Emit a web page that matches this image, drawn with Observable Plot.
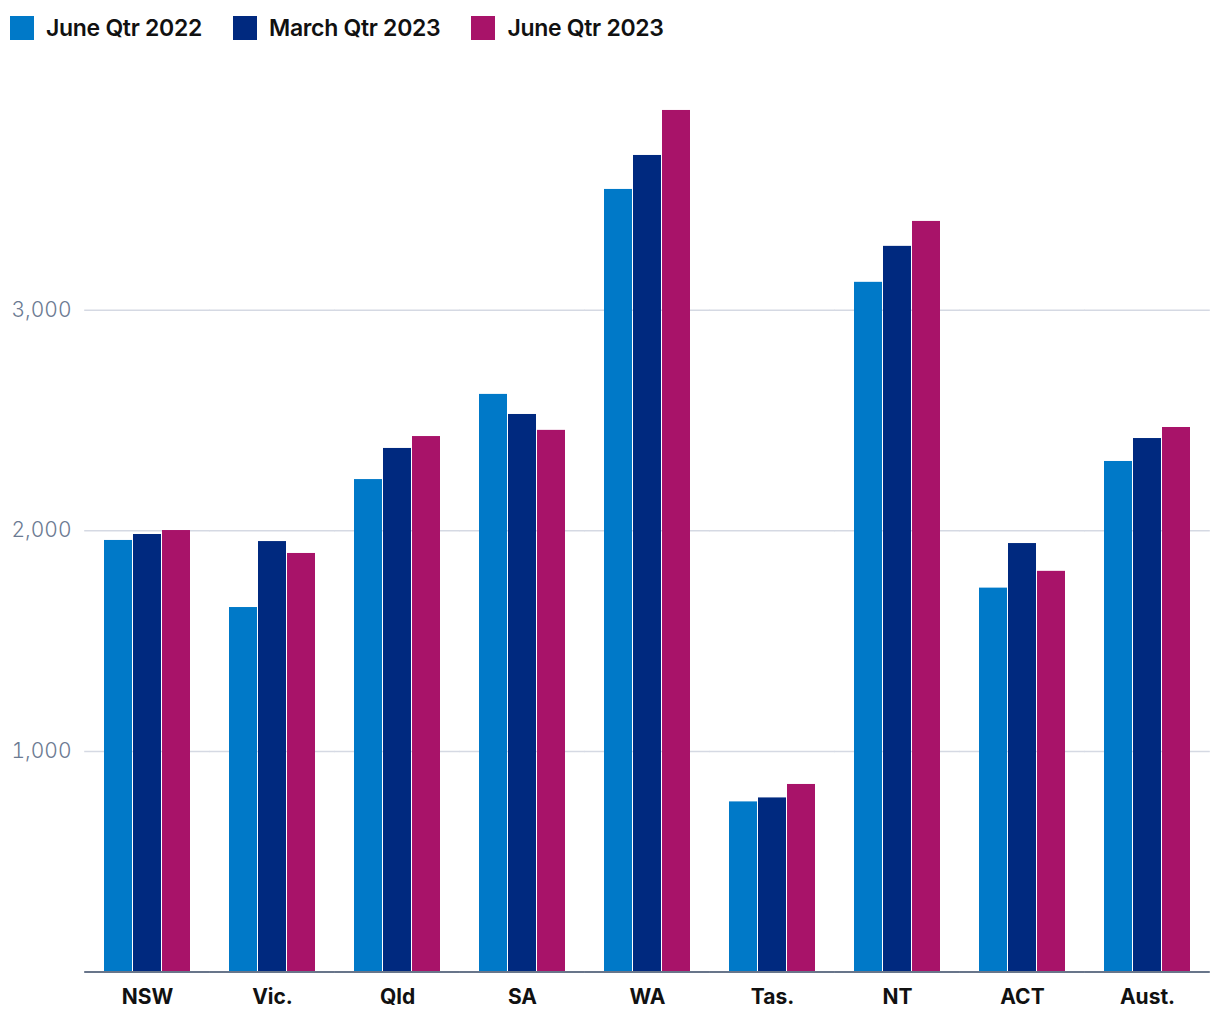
<!DOCTYPE html>
<html>
<head>
<meta charset="utf-8">
<script src="https://cdn.jsdelivr.net/npm/d3@7"></script>
<script src="https://cdn.jsdelivr.net/npm/@observablehq/plot@0.6"></script>
<style>
  html, body { margin: 0; padding: 0; background: #fff; }
  body { width: 1220px; height: 1020px; overflow: hidden; font-family: Inter, "Noto Sans", sans-serif; }
  #legend { height: 56px; box-sizing: border-box; padding: 16px 0 0 10px; display: flex; align-items: flex-start; }
  #legend .item { display: flex; align-items: center; margin-right: 31px; }
  #legend .sw { width: 24px; height: 24px; margin-right: 12px; }
  #legend .lbl { font-size: 23px; font-weight: 600; color: #111; line-height: 24px; letter-spacing: -0.3px; }
  #chart svg { display: block; }
</style>
</head>
<body>
<div id="legend"></div>
<div id="chart"></div>
<script>
const states = ["NSW", "Vic.", "Qld", "SA", "WA", "Tas.", "NT", "ACT", "Aust."];
const seriesNames = ["June Qtr 2022", "March Qtr 2023", "June Qtr 2023"];
const seriesColors = ["#0079c8", "#00297f", "#a81369"];
const june2022 = [1956, 1652, 2232, 2618, 3547, 771, 3126, 1740, 2314];
const march2023 = [1983, 1951, 2373, 2527, 3701, 789, 3289, 1942, 2418];
const june2023 = [2001, 1897, 2427, 2455, 3905, 850, 3402, 1816, 2468];
const yTicks = [1000, 2000, 3000];

const seriesValues = [june2022, march2023, june2023];
const data = [];
states.forEach((s, i) => {
  seriesNames.forEach((n, j) => {
    data.push({state: s, series: n, value: seriesValues[j][i]});
  });
});

// legend
const legend = document.getElementById("legend");
seriesNames.forEach((n, j) => {
  const item = document.createElement("div");
  item.className = "item";
  const sw = document.createElement("div");
  sw.className = "sw";
  sw.style.background = seriesColors[j];
  const lbl = document.createElement("div");
  lbl.className = "lbl";
  lbl.textContent = n;
  item.appendChild(sw);
  item.appendChild(lbl);
  legend.appendChild(item);
});

const halfGap = -19.8;
const chart = Plot.plot({
  width: 1220,
  height: 964,
  marginTop: 33,
  marginBottom: 48.5,
  marginLeft: 84,
  marginRight: 10,
  style: {fontFamily: "Inter, 'Noto Sans', sans-serif", background: "#fff"},
  fx: {domain: states, paddingInner: 0.312, paddingOuter: 0.156, label: null},
  x: {domain: seriesNames, paddingInner: 0.05, paddingOuter: 0, axis: null},
  y: {domain: [0, 4000], axis: null},
  color: {domain: seriesNames, range: seriesColors},
  marks: [
    Plot.ruleY(yTicks, {stroke: "#d5d9e3", strokeWidth: 1.5, insetLeft: halfGap, insetRight: halfGap}),
    Plot.barY(data, {fx: "state", x: "series", y: "value", fill: "series"}),
    Plot.ruleY([0], {stroke: "#68758a", strokeWidth: 2, insetLeft: halfGap, insetRight: halfGap}),
    Plot.axisY(yTicks, {tickSize: 0, tickPadding: 33, tickFormat: d3.format(","), fontSize: 21, fontWeight: 300, fill: "#6b7a92", label: null}),
    Plot.axisFx({anchor: "bottom", tickSize: 0, tickPadding: 17, fontSize: 21, fontWeight: 700, fill: "#111", label: null})
  ]
});
document.getElementById("chart").appendChild(chart);
</script>
</body>
</html>
